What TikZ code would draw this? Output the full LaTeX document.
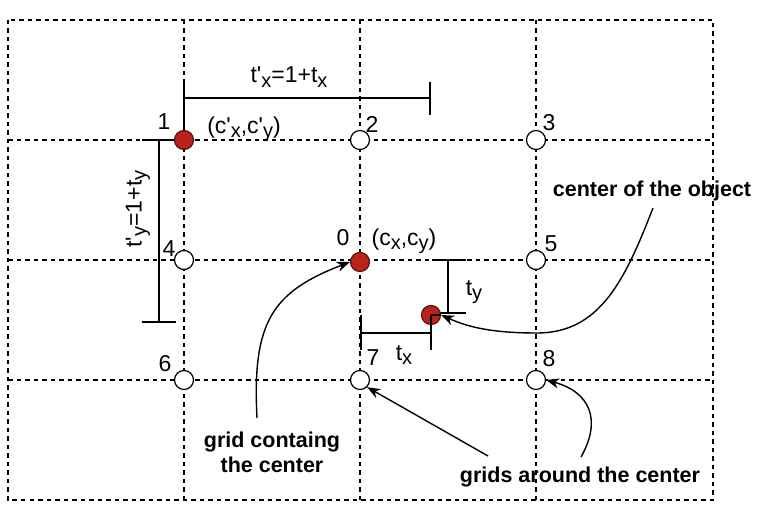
\documentclass[tikz,border=0pt]{standalone}
\usepackage{fontspec}
\setmainfont{Liberation Sans}
\usetikzlibrary{arrows.meta}
\newcommand\sbx[1]{\raisebox{-0.35ex}{\fontsize{20}{20}\selectfont #1}}
\newcommand\pr{\textquotesingle}
\definecolor{dotred}{RGB}{185,35,28}
\tikzset{
  gridline/.style={line width=1.3pt, dash pattern=on 4.5pt off 4pt},
  pt/.style={circle, draw=black, line width=1.2pt, minimum size=19pt, inner sep=0pt},
  wpt/.style={pt, fill=white},
  rpt/.style={pt, fill=dotred, draw={rgb,255:red,90;green,20;blue,15}},
  lbl/.style={inner sep=0pt, font=\fontsize{23}{27}\selectfont},
  blbl/.style={inner sep=0pt, align=center, font=\fontsize{21.5}{25}\selectfont\bfseries},
  dim/.style={line width=1.4pt, line cap=butt},
  arr/.style={line width=1.4pt, -{Stealth[length=13pt,width=10pt,inset=4pt]}}
}
\begin{document}
\begin{tikzpicture}[x=1pt,y=-1pt]
\useasboundingbox (0,0) rectangle (764,526);
% grid
\draw[gridline] (8,20) rectangle (713,500);
\foreach \x in {184,360,536} \draw[gridline] (\x,20) -- (\x,500);
\foreach \y in {140,260,380} \draw[gridline] (8,\y) -- (713,\y);
% dimension lines
\coordinate (ta) at (184,82);
\coordinate (tb) at (184,98);
\coordinate (tc) at (430,98);
\coordinate (td1) at (430,82);
\coordinate (td2) at (430,115);
\draw[dim] (ta) -- (184,131);
\draw[dim] (tb) -- (tc);
\draw[dim] (td1) -- (td2);
\coordinate (la) at (142,140);
\coordinate (lb) at (159,140);
\coordinate (lc) at (159,322);
\coordinate (ld1) at (142,322);
\coordinate (ld2) at (176,322);
\draw[dim] (la) -- (175,140);
\draw[dim] (lb) -- (lc);
\draw[dim] (ld1) -- (ld2);
% tx, ty
\coordinate (xa) at (361,315);
\coordinate (xb) at (361,350);
\coordinate (xc) at (361,333);
\coordinate (xd) at (431,333);
\coordinate (xe) at (431,315);
\coordinate (xf) at (431,350);
\draw[dim] (xa) -- (xb);
\draw[dim] (xc) -- (xd);
\draw[dim] (xe) -- (xf);
\coordinate (ya) at (432,260);
\coordinate (yb) at (466,260);
\coordinate (yc) at (448,260);
\coordinate (yd) at (448,313);
\coordinate (ye) at (431,313);
\coordinate (yf) at (466,313);
\draw[dim] (ya) -- (yb);
\draw[dim] (yc) -- (yd);
\draw[dim] (ye) -- (yf);
% points
\node[rpt] (p1) at (184,140) {};
\node[wpt] (p2) at (360,140) {};
\node[wpt] (p3) at (536,140) {};
\node[wpt] (p4) at (184,260) {};
\node[rpt] (p0) at (360,262) {};
\node[wpt] (p5) at (536,260) {};
\node[wpt] (p6) at (184,380) {};
\node[wpt] (p7) at (360,380) {};
\node[wpt] (p8) at (536,380) {};
\node[rpt] (obj) at (431,315) {};
\draw[line width=1.2pt] (431,315) -- (431,325);
\draw[line width=1.2pt] (431,315) -- (441,315);
% labels
\node[lbl] (n1) at (164,122) {1};
\node[lbl] (n2) at (372,124) {2};
\node[lbl] (n3) at (549,123) {3};
\node[lbl] (n4) at (169,249) {4};
\node[lbl] (n0) at (343,238) {0};
\node[lbl] (n5) at (551,244) {5};
\node[lbl] (n6) at (165,364) {6};
\node[lbl] (n7) at (373,358) {7};
\node[lbl] (n8) at (549,359) {8};
\node[lbl] (cp) at (244,129) {(c\pr\sbx{x},c\pr\sbx{y})};
\node[lbl] (cc) at (404,241) {(c\sbx{x},c\sbx{y})};
\node[lbl] (tpx) at (289,77) {t\pr\sbx{x}=1+t\sbx{x}};
\node[lbl, rotate=90] (tpy) at (138,209) {t\pr\sbx{y}=1+t\sbx{y}};
\node[lbl] (ty) at (474,292) {t\sbx{y}};
\node[lbl] (tx) at (404,355) {t\sbx{x}};
\node[blbl] (tco) at (652,191) {center of the object};
\node[blbl] (tgc) at (272,452) {grid containg\\the center};
\node[blbl] (tga) at (580,477) {grids around the center};
% arrows
\draw[arr] (653,208) .. controls (625,280) and (600,333) .. (537,333)
   .. controls (495,333) and (470,328) .. (obj.east);
\draw[arr] (257,418) .. controls (252,322) and (272,292) .. (p0.west);
\draw[arr] (488,456) -- (p7.south east);
\draw[arr] (581,457) .. controls (602,420) and (590,392) .. (p8.east);
\end{tikzpicture}
\end{document}
